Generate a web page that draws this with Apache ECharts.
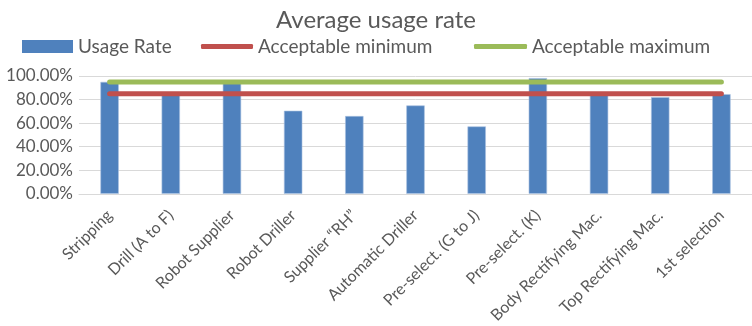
<!DOCTYPE html>
<html>
<head>
<meta charset="utf-8">
<script src="https://cdn.jsdelivr.net/npm/echarts@6/dist/echarts.min.js"></script>
<style>
  html, body { margin: 0; padding: 0; background: #fff; }
  #chart { width: 752px; height: 326px; }
</style>
</head>
<body>
<div id="chart"></div>
<script>
const categories = [
  'Stripping', 'Drill (A to F)', 'Robot Supplier', 'Robot Driller',
  'Supplier \u201cRH\u201d', 'Automatic Driller', 'Pre-select. (G to J)',
  'Pre-select. (K)', 'Body Rectifying Mac.', 'Top Rectifying Mac.', '1st selection'
];
const usageRate = [0.95, 0.85, 0.94, 0.705, 0.66, 0.75, 0.572, 0.982, 0.84, 0.82, 0.846];
const acceptableMin = [0.85, 0.85, 0.85, 0.85, 0.85, 0.85, 0.85, 0.85, 0.85, 0.85, 0.85];
const acceptableMax = [0.95, 0.95, 0.95, 0.95, 0.95, 0.95, 0.95, 0.95, 0.95, 0.95, 0.95];
const yTicks = [0, 0.2, 0.4, 0.6, 0.8, 1.0];

const FONT = 'Lato';
const GREY = '#595959';

const chart = echarts.init(document.getElementById('chart'), null, { renderer: 'canvas' });

const legendText = { fontFamily: FONT, fontSize: 19, color: GREY };

chart.setOption({
  animation: false,
  backgroundColor: '#fff',
  title: {
    text: 'Average usage rate',
    left: 'center',
    top: 3,
    textStyle: { fontFamily: FONT, fontSize: 24, fontWeight: 'normal', color: GREY }
  },
  legend: [
    {
      left: 22, top: 37, padding: 0, itemWidth: 51, itemHeight: 13, selectedMode: false,
      textStyle: legendText,
      itemStyle: { borderWidth: 0 },
      data: [{ name: 'Usage Rate', icon: 'rect' }]
    },
    {
      left: 201, top: 37, padding: 0, itemWidth: 52, itemHeight: 5, selectedMode: false,
      textStyle: legendText,
      data: [{ name: 'Acceptable minimum', icon: 'roundRect' }]
    },
    {
      left: 474, top: 37, padding: 0, itemWidth: 53, itemHeight: 5, selectedMode: false,
      textStyle: legendText,
      data: [{ name: 'Acceptable maximum', icon: 'roundRect' }]
    }
  ],
  grid: { left: 79, right: -8, top: 76, bottom: 125 },
  xAxis: {
    type: 'category',
    data: categories,
    boundaryGap: true,
    axisLine: { show: true, lineStyle: { color: '#d9d9d9', width: 1 } },
    axisTick: { show: false },
    axisLabel: {
      interval: 0,
      rotate: 45,
      margin: 19,
      fontFamily: FONT,
      fontSize: 16,
      color: GREY
    }
  },
  yAxis: {
    type: 'value',
    min: 0,
    max: 1,
    interval: 0.2,
    axisLine: { show: false },
    axisTick: { show: false },
    splitLine: { lineStyle: { color: '#d9d9d9', width: 1 } },
    axisLabel: {
      margin: 6,
      fontFamily: FONT,
      fontSize: 17,
      color: GREY,
      formatter: v => (v * 100).toFixed(2) + '%'
    }
  },
  series: [
    {
      name: 'Usage Rate',
      type: 'bar',
      data: usageRate,
      barWidth: '30%',
      itemStyle: { color: '#4f81bd', borderColor: '#a9c1e0', borderWidth: 0.6 }
    },
    {
      name: 'Acceptable minimum',
      type: 'line',
      data: acceptableMin,
      symbol: 'none',
      itemStyle: { color: '#c0504d' },
      lineStyle: { color: '#c0504d', width: 5, cap: 'round' }
    },
    {
      name: 'Acceptable maximum',
      type: 'line',
      data: acceptableMax,
      symbol: 'none',
      itemStyle: { color: '#9bbb59' },
      lineStyle: { color: '#9bbb59', width: 5, cap: 'round' }
    }
  ]
});
</script>
</body>
</html>
